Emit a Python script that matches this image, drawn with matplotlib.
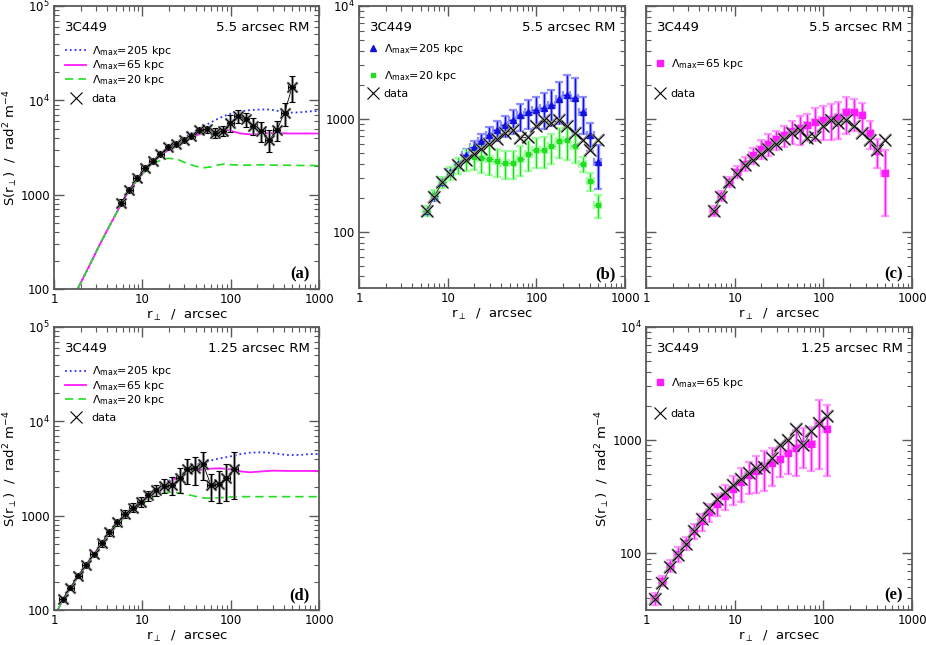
import math
import matplotlib
matplotlib.use('Agg')
import matplotlib.pyplot as plt
from matplotlib.legend import Legend
from matplotlib.lines import Line2D
from matplotlib.ticker import FixedLocator, FuncFormatter, LogLocator, NullFormatter

# separations (arcsec)
r55 = [5.8, 7.1, 8.7, 10.7, 13.1, 16.0, 19.6, 24.0, 29.4, 36.0, 44.0, 54.0, 66.0,
       81.0, 99.0, 121, 148, 181, 222, 272, 333, 408, 495]
r125 = [1.25, 1.53, 1.88, 2.3, 2.82, 3.46, 4.24, 5.2, 6.37, 7.8, 9.57, 11.7, 14.4,
        17.6, 21.6, 26.4, 32.4, 39.7, 48.7, 59.7, 73.1, 89.6, 110]

# panel (a): 5.5 arcsec structure function + models
a_data = [824, 1130, 1497, 1910, 2298, 2700, 3200, 3470, 3820, 4205, 4865, 4950, 4560,
          4750, 5810, 6840, 6310, 5360, 4750, 3820, 4830, 7410, 13800]
a_err = [65, 85, 110, 135, 160, 200, 240, 270, 300, 340, 400, 450, 550, 600, 1200,
         1100, 1100, 1100, 1100, 1000, 1150, 2000, 4200]
a_cx = [1.85, 2.5, 3.2, 4, 5, 6, 7, 8.5, 10, 12, 14, 17, 20, 25, 30, 40, 50, 60, 70,
        85, 100, 130, 170, 220, 280, 350, 450, 600, 800, 1000]
a_205 = [100, 175, 280, 420, 620, 860, 1080, 1400, 1700, 2050, 2380, 2780, 3150, 3650,
         4050, 4750, 5350, 5850, 6300, 6850, 7200, 7650, 7900, 8000, 8000, 7700, 7400,
         7450, 7650, 7700]
a_65 = [100, 175, 280, 420, 620, 860, 1080, 1400, 1700, 2040, 2330, 2700, 3000, 3400,
        3700, 4200, 4600, 4800, 4900, 4900, 4750, 4450, 4350, 4400, 4500, 4500, 4450,
        4450, 4450, 4450]
a_20 = [100, 175, 280, 420, 620, 850, 1060, 1370, 1650, 1950, 2180, 2380, 2430, 2370,
        2200, 2000, 1930, 1970, 2050, 2120, 2080, 2050, 2060, 2070, 2060, 2050, 2050,
        2040, 2040, 2030]

# panels (b) and (c): normalised 5.5 arcsec data + simulations
bc_data = [153, 204, 276, 327, 387, 429, 491, 543, 593, 666, 752, 789, 675, 689, 856,
           967, 922, 967, 856, 748, 644, 533, 644]
b_205 = [153, 206, 276, 338, 401, 475, 562, 635, 713, 800, 873, 967, 1071, 1147, 1185,
         1250, 1337, 1501, 1629, 1532, 1147, 713, 415]
b_205_err = [15, 18, 25, 35, 45, 60, 80, 100, 130, 160, 190, 230, 290, 330, 360, 430,
             480, 600, 800, 750, 420, 200, 175]
b_20 = [153, 211, 276, 332, 387, 435, 459, 453, 444, 423, 406, 406, 444, 491, 525, 525,
        570, 635, 644, 574, 395, 280, 172]
b_20_err = [15, 22, 30, 45, 65, 90, 110, 120, 125, 120, 115, 115, 130, 145, 155, 160,
            170, 190, 210, 170, 60, 50, 40]
c_65 = [153, 207, 276, 338, 401, 475, 543, 602, 657, 713, 778, 827, 873, 934, 980, 1000,
        1035, 1145, 1145, 1070, 747, 515, 332]
c_65_err = [15, 20, 28, 40, 55, 75, 105, 130, 130, 155, 180, 240, 235, 300, 330, 345,
            375, 410, 365, 320, 210, 150, 195]

# panel (d): 1.25 arcsec structure function + models
d_data = [130, 172, 231, 300, 389, 509, 671, 849, 1047, 1217, 1406, 1643, 1871, 2080,
          2113, 2487, 3098, 3176, 3530, 2113, 2148, 2487, 3098]
d_err = [8, 11, 15, 20, 28, 38, 55, 75, 100, 130, 160, 200, 260, 360, 470, 750, 930,
         1050, 1160, 680, 800, 1060, 1600]
d_cx = [1.1, 1.25, 1.53, 1.88, 2.3, 2.82, 3.46, 4.24, 5.2, 6.37, 7.8, 9.57, 11.7, 14.4,
        17.6, 21.6, 26.4, 32.4, 40, 50, 60, 75, 100, 130, 165, 230, 300, 430, 600, 800,
        1000]
d_205 = [100, 127, 170, 228, 300, 390, 505, 660, 840, 1030, 1210, 1410, 1640, 1900, 2150,
         2450, 2800, 3150, 3450, 3650, 3850, 4050, 4250, 4500, 4650, 4700, 4600, 4400,
         4400, 4500, 4500]
d_65 = [100, 127, 170, 228, 300, 390, 505, 660, 840, 1030, 1210, 1400, 1620, 1870, 2100,
        2350, 2600, 2850, 3000, 3100, 3150, 3180, 3100, 2950, 2880, 2950, 3000, 2980,
        2980, 2980, 2980]
d_20 = [100, 127, 170, 226, 295, 382, 490, 635, 800, 970, 1130, 1300, 1480, 1650, 1740,
        1780, 1740, 1680, 1600, 1540, 1530, 1550, 1580, 1590, 1590, 1590, 1590, 1590,
        1590, 1590, 1590]

# panel (e): normalised 1.25 arcsec data + simulation
e_data = [39.6, 54.5, 75.3, 96, 122, 158, 203, 254, 300, 349, 402, 457, 516, 563, 578,
          700, 916, 1014, 1259, 916, 1200, 1420, 1648]
e_65 = [40, 57.5, 78, 98.7, 123, 158, 192, 233, 275, 322, 373, 427, 489, 534, 578, 624,
        685, 764, 857, 929, 929, 1420, 1259]
e_65_err = [5, 6, 10, 15, 16, 23, 33, 42, 60, 80, 105, 140, 155, 190, 222, 230, 210, 260,
            370, 360, 390, 860, 780]

XERR = 0.09  # half bin width as a fraction of r
BLUE, MAG, GREEN = '#3030ff', '#ff1aff', '#22dd22'
FRAME = '#5a5a5a'
YLAB = r'S(r$_\perp$)  /  rad$^2$ m$^{-4}$'
XLAB = r'r$_\perp$  /  arcsec'
LAM = r'$\Lambda_{\rm max}$'

fig = plt.figure(figsize=(9.26, 6.45), dpi=100)
W, H = 926, 645


def mkax(x0, y0, x1, y1):
    return fig.add_axes([x0 / W, 1 - y1 / H, (x1 - x0) / W, (y1 - y0) / H])


def yfmt(v, pos):
    if v < 5000:
        return '%d' % round(v)
    return r'$10^{%d}$' % round(math.log10(v))


def style(ax, ylim, ylabels=True):
    ax.set_xscale('log')
    ax.set_yscale('log')
    ax.set_xlim(1, 1000)
    ax.set_ylim(*ylim)
    for s in ax.spines.values():
        s.set_color(FRAME)
        s.set_linewidth(1.3)
    ax.tick_params(which='both', direction='in', top=True, right=True, color=FRAME,
                   labelsize=8.5, pad=3)
    ax.tick_params(which='major', length=7, width=1.0)
    ax.tick_params(which='minor', length=3.5, width=0.8)
    ax.xaxis.set_major_locator(FixedLocator([1, 10, 100, 1000]))
    ax.xaxis.set_major_formatter(FuncFormatter(lambda v, p: '%d' % round(v)))
    ax.xaxis.set_minor_locator(LogLocator(base=10, subs=range(2, 10)))
    ax.xaxis.set_minor_formatter(NullFormatter())
    ax.yaxis.set_major_locator(FixedLocator([100, 1000, 1e4, 1e5]))
    ax.yaxis.set_minor_locator(LogLocator(base=10, subs=range(2, 10)))
    ax.yaxis.set_minor_formatter(NullFormatter())
    if ylabels:
        ax.yaxis.set_major_formatter(FuncFormatter(yfmt))
    else:
        ax.yaxis.set_major_formatter(NullFormatter())
    ax.set_xlabel(XLAB, fontsize=9.5, labelpad=1)


def header(ax, res, tag):
    ax.text(0.042, 0.925, '3C449', transform=ax.transAxes, fontsize=9.5, va='center')
    ax.text(0.965, 0.925, res + ' arcsec RM', transform=ax.transAxes, fontsize=9.5,
            va='center', ha='right')
    ax.text(0.965, 0.05, tag, transform=ax.transAxes, fontsize=12, va='center',
            ha='right', family='Liberation Serif', weight='bold')


def entry(ax, handle, label, y, hl=1.9, x0=0.042):
    leg = Legend(ax, [handle], [label], loc='center left', bbox_to_anchor=(x0, y),
                 frameon=False, fontsize=8, handlelength=hl, handletextpad=0.5,
                 borderaxespad=0.0, borderpad=0.0)
    ax.add_artist(leg)


def obs(ax, x, y, err):
    xe = [XERR * v for v in x]
    ax.errorbar(x, y, yerr=err, xerr=xe, fmt='none', ecolor='#909090', elinewidth=2.2,
                capsize=0, zorder=3)
    ax.errorbar(x, y, yerr=err, xerr=xe, fmt='none', ecolor='black', elinewidth=0.7,
                capsize=2.5, capthick=0.8, zorder=4)
    ax.plot(x, y, color='black', lw=0.6, zorder=4)
    ax.plot(x, y, 'x', color='#8c8c8c', ms=7.5, mew=2.0, zorder=5)
    ax.plot(x, y, 'x', color='black', ms=7.5, mew=0.7, zorder=6)
    ax.plot(x, y, 'o', color='black', ms=2.5, zorder=7)


def sim(ax, x, y, err, dark, light, marker, ms):
    xe = [XERR * v for v in x]
    ax.errorbar(x, y, yerr=err, xerr=xe, fmt='none', ecolor=light, elinewidth=2.4,
                capsize=3, capthick=1.6, zorder=3)
    ax.errorbar(x, y, yerr=err, xerr=xe, fmt=marker, color=dark, ms=ms, elinewidth=0.8,
                capsize=0, zorder=4)


def data_line(ax, x, y):
    ax.plot(x, y, color='#202020', lw=0.6, zorder=5)
    ax.plot(x, y, 'x', color='#9a9a9a', ms=8, mew=1.6, zorder=5)
    ax.plot(x, y, 'x', color='black', ms=8, mew=0.7, zorder=6)


h205 = Line2D([], [], color=BLUE, ls=':', lw=1.3)
h65 = Line2D([], [], color=MAG, ls='-', lw=1.3)
h20 = Line2D([], [], color=GREEN, ls=(0, (5, 3)), lw=1.2)
hdata = Line2D([], [], color='black', marker='x', ms=8, mew=0.8, ls='none')
htri = Line2D([], [], color='#1010e0', marker='^', ms=4.5, ls='none')
hsqg = Line2D([], [], color=GREEN, marker='s', ms=3.5, ls='none')
hsqm = Line2D([], [], color=MAG, marker='s', ms=4, ls='none')

# (a)
ax = mkax(54, 6, 319, 289)
style(ax, (100, 1e5))
ax.plot(a_cx, a_205, color=BLUE, ls=':', lw=1.3, zorder=2)
ax.plot(a_cx, a_65, color=MAG, ls='-', lw=1.3, zorder=2)
ax.plot(a_cx, a_20, color=GREEN, ls=(0, (5, 3)), lw=1.2, zorder=2)
obs(ax, r55, a_data, a_err)
header(ax, '5.5', '(a)')
entry(ax, h205, LAM + '=205 kpc', 0.84)
entry(ax, h65, LAM + '=65 kpc', 0.79)
entry(ax, h20, LAM + '=20 kpc', 0.74)
entry(ax, hdata, 'data', 0.672)
ax.set_ylabel(YLAB, fontsize=9.5, labelpad=0)

# (b)
ax = mkax(359, 6, 625, 288)
style(ax, (10 ** 1.5, 1e4))
sim(ax, r55, b_205, b_205_err, '#1010e0', '#9090ff', '^', 4)
sim(ax, r55, b_20, b_20_err, '#22dd22', '#a0ffa0', 's', 3.5)
data_line(ax, r55, bc_data)
header(ax, '5.5', '(b)')
entry(ax, htri, LAM + '=205 kpc', 0.847, hl=1.0, x0=0.03)
entry(ax, hsqg, LAM + '=20 kpc', 0.752, hl=1.0, x0=0.03)
entry(ax, hdata, 'data', 0.688, hl=1.0, x0=0.03)

# (c)
ax = mkax(646, 6, 912, 288)
style(ax, (10 ** 1.5, 1e4), ylabels=False)
sim(ax, r55, c_65, c_65_err, MAG, '#ff99ff', 's', 4)
data_line(ax, r55, bc_data)
header(ax, '5.5', '(c)')
entry(ax, hsqm, LAM + '=65 kpc', 0.794, hl=1.0, x0=0.03)
entry(ax, hdata, 'data', 0.688, hl=1.0, x0=0.03)

# (d)
ax = mkax(54, 327, 319, 610)
style(ax, (100, 1e5))
ax.plot(d_cx, d_205, color=BLUE, ls=':', lw=1.3, zorder=2)
ax.plot(d_cx, d_65, color=MAG, ls='-', lw=1.3, zorder=2)
ax.plot(d_cx, d_20, color=GREEN, ls=(0, (5, 3)), lw=1.2, zorder=2)
obs(ax, r125, d_data, d_err)
header(ax, '1.25', '(d)')
entry(ax, h205, LAM + '=205 kpc', 0.843)
entry(ax, h65, LAM + '=65 kpc', 0.793)
entry(ax, h20, LAM + '=20 kpc', 0.743)
entry(ax, hdata, 'data', 0.678)
ax.set_ylabel(YLAB, fontsize=9.5, labelpad=0)

# (e)
ax = mkax(646, 327, 912, 610)
style(ax, (10 ** 1.5, 1e4))
sim(ax, r125, e_65, e_65_err, MAG, '#ff99ff', 's', 4)
data_line(ax, r125, e_data)
header(ax, '1.25', '(e)')
entry(ax, hsqm, LAM + '=65 kpc', 0.802, hl=1.0, x0=0.03)
entry(ax, hdata, 'data', 0.693, hl=1.0, x0=0.03)
ax.set_ylabel(YLAB, fontsize=9.5, labelpad=0)

fig.savefig('out.png', dpi=100)
